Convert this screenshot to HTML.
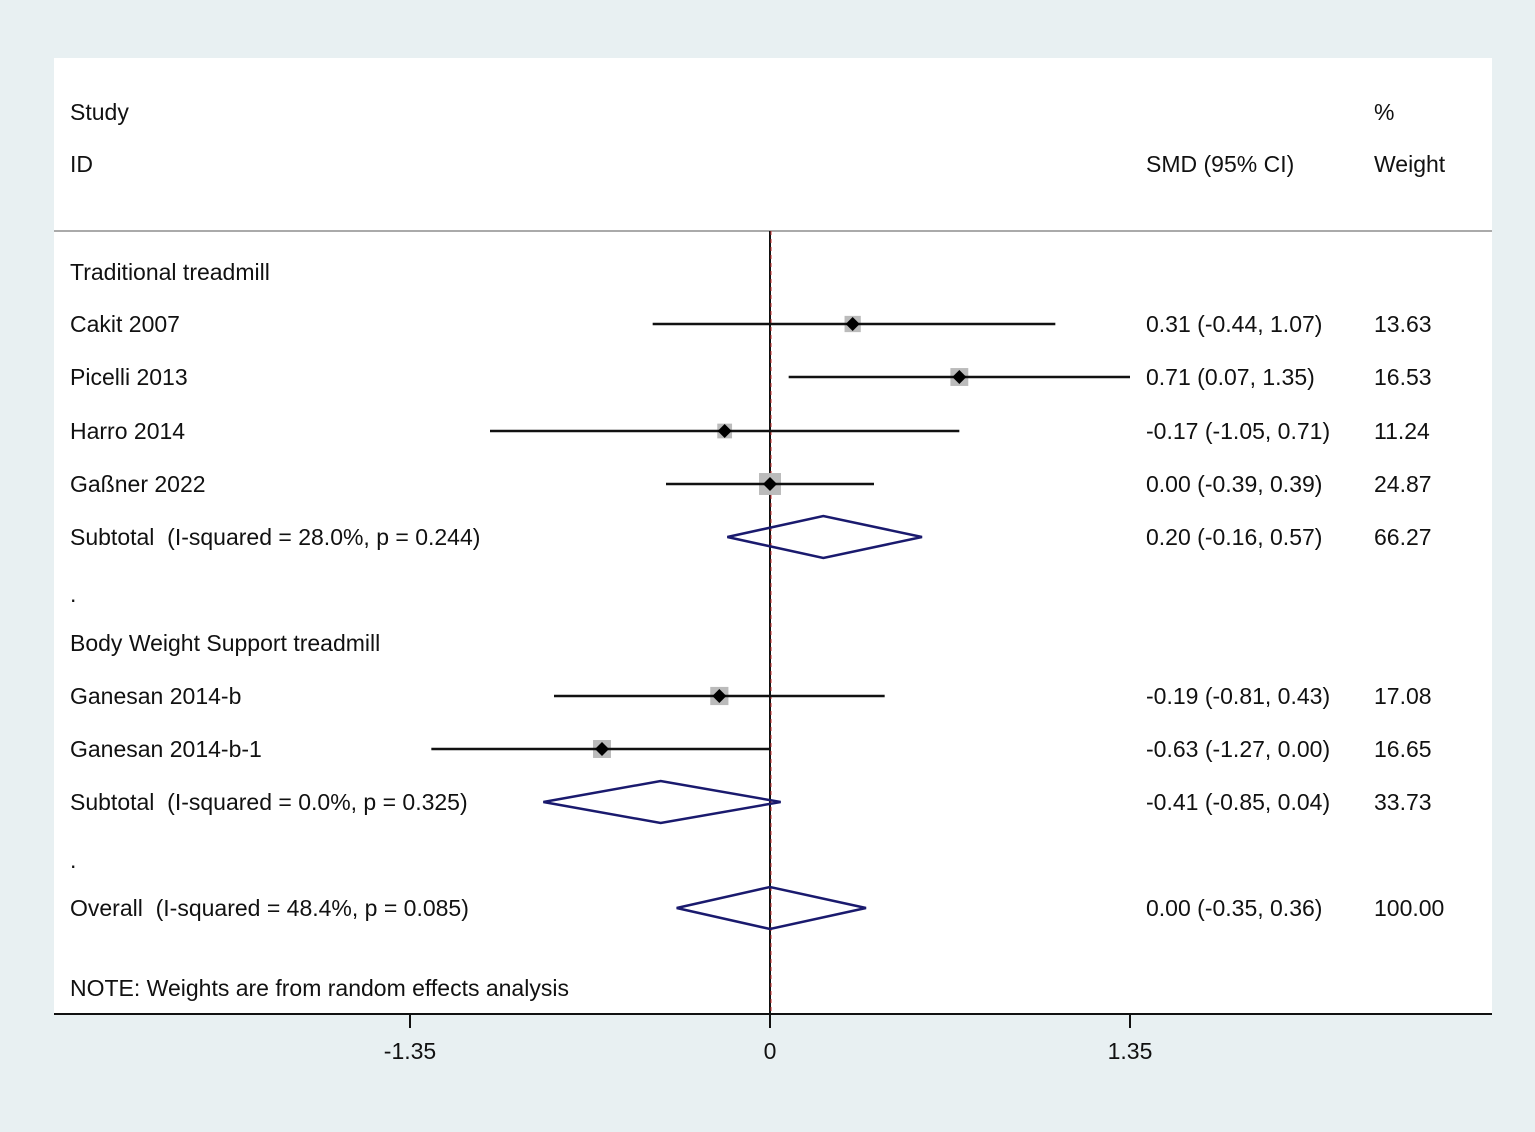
<!DOCTYPE html>
<html><head><meta charset="utf-8"><style>
html,body{margin:0;padding:0;background:#e8f0f2;}
svg{display:block;font-family:"Liberation Sans",sans-serif;}
text{white-space:pre;}
</style></head><body>
<svg width="1535" height="1132">
<rect x="54" y="58" width="1438" height="955" fill="#fff"/>
<line x1="54" y1="231" x2="1492" y2="231" stroke="#aaa" stroke-width="2"/>
<g font-size="23" fill="#111">
<text x="70" y="120">Study</text>
<text x="70" y="172">ID</text>
<text x="1146" y="172">SMD (95% CI)</text>
<text x="1374" y="120">%</text>
<text x="1374" y="172">Weight</text>
<text x="70" y="280">Traditional treadmill</text>
<text x="70" y="602">.</text>
<text x="70" y="651">Body Weight Support treadmill</text>
<text x="70" y="868">.</text>
<text x="70" y="996">NOTE: Weights are from random effects analysis</text>
</g>
<g id="marks"></g>
<line x1="54" y1="1014" x2="1492" y2="1014" stroke="#111" stroke-width="2"/>
<g id="ticks" font-size="23" fill="#111" text-anchor="middle"></g>
<script>
const studies=["Cakit 2007","Picelli 2013","Harro 2014","Gaßner 2022","Ganesan 2014-b","Ganesan 2014-b-1"];
const est=[0.31,0.71,-0.17,0.00,-0.19,-0.63];
const lo=[-0.44,0.07,-1.05,-0.39,-0.81,-1.27];
const hi=[1.07,1.35,0.71,0.39,0.43,0.00];
const ciText=["0.31 (-0.44, 1.07)","0.71 (0.07, 1.35)","-0.17 (-1.05, 0.71)","0.00 (-0.39, 0.39)","-0.19 (-0.81, 0.43)","-0.63 (-1.27, 0.00)"];
const weights=[13.63,16.53,11.24,24.87,17.08,16.65];
const studyRows=[324,377,431,484,696,749];
const pooledLabels=["Subtotal  (I-squared = 28.0%, p = 0.244)","Subtotal  (I-squared = 0.0%, p = 0.325)","Overall  (I-squared = 48.4%, p = 0.085)"];
const pooledEst=[0.20,-0.41,0.00];
const pooledLo=[-0.16,-0.85,-0.35];
const pooledHi=[0.57,0.04,0.36];
const pooledText=["0.20 (-0.16, 0.57)","-0.41 (-0.85, 0.04)","0.00 (-0.35, 0.36)"];
const pooledW=["66.27","33.73","100.00"];
const pooledRows=[537,802,908];
const tickVals=[-1.35,0,1.35];
const tickLabels=["-1.35","0","1.35"];
const X=v=>770+v*(360/1.35);
const NS="http://www.w3.org/2000/svg";
const g=document.getElementById('marks');
function mk(t,a,p){const e=document.createElementNS(NS,t);for(const k in a)e.setAttribute(k,a[k]);(p||g).appendChild(e);return e;}
function txt(x,y,s,p){const e=mk('text',{x:x,y:y,'font-size':23,fill:'#111'},p);e.textContent=s;return e;}
let e;
e=mk('line',{x1:X(0),y1:231,x2:X(0),y2:1014,stroke:'#111','stroke-width':2});


e=mk('line',{x1:X(0)+1,y1:231,x2:X(0)+1,y2:1014,stroke:'#c33','stroke-width':1,'stroke-dasharray':'4,4'});


studies.forEach((s,i)=>{
 const y=studyRows[i];
 e=txt(70,y+8,s);
 
 
 const sz=4.4*Math.sqrt(weights[i]);
 e=mk('rect',{x:X(est[i])-sz/2,y:y-sz/2,width:sz,height:sz,fill:'#bbb'});
 
 
 e=mk('line',{x1:X(lo[i]),y1:y,x2:X(hi[i]),y2:y,stroke:'#111','stroke-width':2.5});
 
 
 const d=7,cx=X(est[i]);
 e=mk('polygon',{points:`${cx-d},${y} ${cx},${y-d} ${cx+d},${y} ${cx},${y+d}`,fill:'#000'});
 
 
 e=txt(1146,y+8,ciText[i]);
 
 
 e=txt(1374,y+8,weights[i].toFixed(2));
 
 
});
pooledLabels.forEach((s,i)=>{
 const y=pooledRows[i];
 e=txt(70,y+8,s);
 
 
 const h=21;
 e=mk('polygon',{points:`${X(pooledLo[i])},${y} ${X(pooledEst[i])},${y-h} ${X(pooledHi[i])},${y} ${X(pooledEst[i])},${y+h}`,fill:'none',stroke:'#1a1a6e','stroke-width':2.5});
 
 
 e=txt(1146,y+8,pooledText[i]);
 
 
 e=txt(1374,y+8,pooledW[i]);
 
 
});
const tg=document.getElementById('ticks');
tickVals.forEach((v,i)=>{
 e=mk('line',{x1:X(v),y1:1014,x2:X(v),y2:1028,stroke:'#111','stroke-width':2},tg);
 
 
 e=mk('text',{x:X(v),y:1059},tg);
 e.textContent=tickLabels[i];
 
 
});
</script>
</svg>
</body></html>
